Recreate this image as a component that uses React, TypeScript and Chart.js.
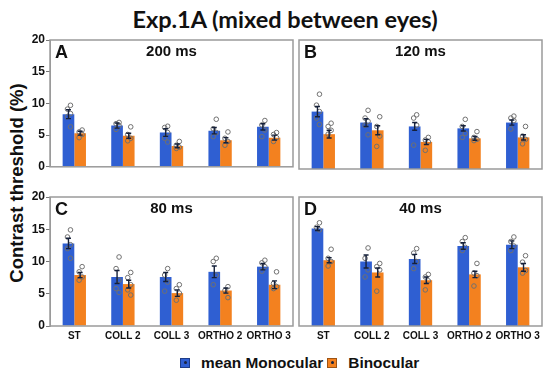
import React, { useEffect, useRef } from 'react';
import { Chart, registerables } from 'chart.js';
Chart.register(...registerables);

const categories = ['ST', 'COLL 2', 'COLL 3', 'ORTHO 2', 'ORTHO 3'];
const yTicks = [0, 5, 10, 15, 20];

// 200 ms
const mono200 = [8.3, 6.5, 5.4, 5.7, 6.3];
const bino200 = [5.3, 4.9, 3.3, 4.2, 4.6];
const monoErr200 = [0.7, 0.4, 0.6, 0.5, 0.5];
const binoErr200 = [0.3, 0.4, 0.3, 0.4, 0.4];
const monoPts200 = [[9.7, 9.1, 8.4, 7.9, 6.3], [7.0, 6.8, 6.5, 5.9], [6.4, 6.2, 5.4, 4.5, 3.9], [7.5, 6.0, 5.4, 4.75], [7.3, 6.6, 5.8, 4.75]];
const binoPts200 = [[5.8, 5.5, 5.1, 4.6], [6.3, 5.1, 4.5, 4.1], [4.0, 3.4, 3.1, 2.9], [5.5, 4.5, 4.0, 3.4], [5.4, 5.1, 4.6, 4.0]];

// 120 ms
const mono120 = [8.9, 7.2, 6.6, 6.3, 7.2];
const bino120 = [5.4, 6.0, 4.2, 4.75, 4.9];
const monoErr120 = [0.8, 0.6, 0.6, 0.4, 0.4];
const binoErr120 = [0.6, 0.7, 0.4, 0.3, 0.4];
const monoPts120 = [[11.6, 9.9, 8.9, 7.9, 6.9], [9.1, 7.9, 7.4, 6.8, 5.3], [8.4, 7.9, 6.8, 3.7], [7.7, 6.6, 5.5, 4.9], [8.2, 7.9, 7.5, 6.2]];
const binoPts120 = [[7.1, 6.6, 6.0, 5.4], [8.1, 6.6, 5.1, 3.5], [4.9, 4.5, 4.2, 2.9], [5.8, 4.9, 4.6, 4.4], [6.6, 5.1, 4.6, 3.9]];

// 80 ms
const mono80 = [12.8, 7.6, 7.6, 8.4, 9.2];
const bino80 = [7.9, 6.5, 5.1, 5.5, 6.4];
const monoErr80 = [0.8, 1.0, 0.7, 0.9, 0.5];
const binoErr80 = [0.4, 0.6, 0.5, 0.4, 0.6];
const monoPts80 = [[14.9, 13.8, 12.6, 12.0, 10.5], [10.7, 8.9, 7.1, 5.8, 5.2], [8.9, 7.9, 6.8, 5.4], [10.5, 10.0, 7.9, 6.4], [10.2, 9.8, 9.2, 8.5]];
const binoPts80 = [[9.2, 8.4, 7.6, 7.1], [8.3, 7.5, 6.4, 5.6, 4.8], [6.4, 5.8, 5.1, 4.0], [6.1, 5.5, 4.4], [8.4, 6.6, 6.1, 5.8]];

// 40 ms
const mono40 = [15.1, 10.0, 10.4, 12.4, 12.6];
const bino40 = [10.2, 8.3, 7.1, 8.0, 9.1];
const monoErr40 = [0.3, 1.0, 0.7, 0.5, 0.6];
const binoErr40 = [0.4, 0.7, 0.5, 0.5, 0.6];
const monoPts40 = [[16.0, 15.3, 14.9], [12.1, 10.5, 8.7, 7.6], [12.0, 11.3, 10.0, 8.9], [13.7, 13.1, 12.2, 11.7], [13.8, 13.1, 12.4, 11.7]];
const binoPts40 = [[11.9, 10.5, 10.0, 9.3], [9.7, 9.2, 8.7, 5.4], [8.0, 7.6, 7.0, 5.6], [9.7, 8.2, 7.8, 6.2], [10.9, 9.9, 8.6, 8.2]];

const BLUE = '#2f5fd2';
const ORANGE = '#f3811f';
const FONT = '"Liberation Sans", Arial, sans-serif';

const errDotsPlugin = {
  id: 'errDots',
  afterDatasetsDraw(chart: any, _args: any, opts: any) {
    const ctx = chart.ctx;
    const ys = chart.scales.y;
    const { err, pts } = opts;
    [0, 1].forEach((di) => {
      const meta = chart.getDatasetMeta(di);
      meta.data.forEach((bar: any, i: number) => {
        const v = chart.data.datasets[di].data[i];
        const e = err[di][i];
        const x = bar.x;
        ctx.save();
        ctx.strokeStyle = '#707070';
        ctx.lineWidth = 1;
        (pts[di][i] as number[]).forEach((p, k) => {
          const jx = (k % 2 === 0 ? 1 : -1) * 1.5 + 0.5;
          ctx.beginPath();
          ctx.arc(x + jx, ys.getPixelForValue(p), 2.3, 0, Math.PI * 2);
          ctx.stroke();
        });
        ctx.strokeStyle = '#15203a';
        ctx.lineWidth = 1.4;
        const yt = ys.getPixelForValue(v + e);
        const yb = ys.getPixelForValue(v - e);
        ctx.beginPath();
        ctx.moveTo(x, yt);
        ctx.lineTo(x, yb);
        ctx.moveTo(x - 2.5, yt);
        ctx.lineTo(x + 2.5, yt);
        ctx.moveTo(x - 2.5, yb);
        ctx.lineTo(x + 2.5, yb);
        ctx.stroke();
        ctx.restore();
      });
    });
  },
};

const framePlugin = {
  id: 'frame',
  afterDraw(chart: any, _args: any, opts: any) {
    const { left, top, right, bottom } = chart.chartArea;
    const ctx = chart.ctx;
    ctx.save();
    ctx.strokeStyle = '#9a9a9a';
    ctx.lineWidth = 1.5;
    ctx.strokeRect(left, top, right - left, bottom - top);
    ctx.fillStyle = '#111';
    ctx.textBaseline = 'middle';
    ctx.textAlign = 'left';
    ctx.font = `bold 18px ${FONT}`;
    ctx.fillText(opts.letter, left + 5, top + 13);
    ctx.textAlign = 'center';
    ctx.font = `bold 15px ${FONT}`;
    ctx.fillText(opts.label, (left + right) / 2, top + 12);
    ctx.restore();
  },
};

type PanelProps = {
  left: number; top: number; width: number; height: number;
  letter: string; label: string; showY: boolean; showX: boolean;
  mono: number[]; bino: number[]; monoErr: number[]; binoErr: number[];
  monoPts: number[][]; binoPts: number[][];
  padL: number; padR: number;
};

function Panel(p: PanelProps) {
  const ref = useRef<HTMLCanvasElement>(null);
  useEffect(() => {
    const chart = new Chart(ref.current as HTMLCanvasElement, {
      type: 'bar',
      data: {
        labels: categories,
        datasets: [
          { label: 'mean Monocular', data: p.mono, backgroundColor: BLUE, categoryPercentage: 0.48, barPercentage: 1.0 },
          { label: 'Binocular', data: p.bino, backgroundColor: ORANGE, categoryPercentage: 0.48, barPercentage: 1.0 },
        ],
      },
      options: {
        animation: false,
        responsive: false,
        layout: { padding: { left: p.padL, right: p.padR, top: 10, bottom: p.showX ? 0 : 6 } },
        plugins: {
          legend: { display: false },
          tooltip: { enabled: false },
          errDots: { err: [p.monoErr, p.binoErr], pts: [p.monoPts, p.binoPts] },
          frame: { letter: p.letter, label: p.label },
        } as any,
        scales: {
          x: {
            grid: { display: false, drawTicks: false },
            border: { display: false },
            ticks: {
              display: p.showX,
              autoSkip: false,
              maxRotation: 0,
              padding: 4,
              color: '#111',
              font: { family: FONT, weight: 'bold', size: 10 },
            },
            afterFit: (s: any) => { s.height = p.showX ? 26 : 0; },
          },
          y: {
            display: p.showY,
            min: 0,
            max: 20,
            afterBuildTicks: (s: any) => { s.ticks = yTicks.map((v) => ({ value: v })); },
            grid: { drawOnChartArea: false, drawTicks: true, tickLength: 4, color: '#777' },
            border: { display: true, color: '#9a9a9a' },
            ticks: {
              padding: 1,
              color: '#111',
              font: { family: FONT, weight: 'bold', size: 12 },
            },
            afterFit: (s: any) => { s.width = p.showY ? 50 - p.padL : 0; },
          },
        },
      },
      plugins: [errDotsPlugin, framePlugin],
    });
    return () => chart.destroy();
  }, []);
  return (
    <canvas
      ref={ref}
      width={p.width}
      height={p.height}
      style={{ position: 'absolute', left: p.left, top: p.top, width: p.width, height: p.height }}
    />
  );
}

function LegendBox({ color, gap }: { color: string; gap: number }) {
  return (
    <span style={{ display: 'inline-block', position: 'relative', width: 8, height: 8, background: color, border: '1px solid rgba(0,0,0,0.35)', marginRight: gap, verticalAlign: 'middle' }}>
      <span style={{ position: 'absolute', left: 2.5, top: 2.5, width: 3, height: 3, borderRadius: '50%', background: '#1a2340' }} />
    </span>
  );
}

export default function App() {
  return (
    <div style={{ position: 'fixed', left: 0, top: 0, width: 550, height: 376, background: '#fff', overflow: 'hidden' }}>
      <div style={{ position: 'absolute', left: 0, top: 4, width: 570, textAlign: 'center', fontFamily: 'Lato, "Open Sans", sans-serif', fontWeight: 700, fontSize: 23.5, lineHeight: '30px', color: '#111' }}>
        Exp.1A (mixed between eyes)
      </div>
      <div style={{ position: 'absolute', left: 17 - 120, top: 183 - 12, width: 240, height: 24, lineHeight: '24px', textAlign: 'center', transform: 'rotate(-90deg)', fontFamily: FONT, fontWeight: 700, fontSize: 18.5, color: '#111' }}>
        Contrast threshold (%)
      </div>
      <Panel left={0} top={30} width={300} height={145} letter="A" label="200 ms" showY={true} showX={false}
        mono={mono200} bino={bino200} monoErr={monoErr200} binoErr={binoErr200} monoPts={monoPts200} binoPts={binoPts200} padL={0} padR={7} />
      <Panel left={290} top={30} width={260} height={145} letter="B" label="120 ms" showY={false} showX={false}
        mono={mono120} bino={bino120} monoErr={monoErr120} binoErr={binoErr120} monoPts={monoPts120} binoPts={binoPts120} padL={9} padR={8} />
      <Panel left={0} top={187} width={300} height={165} letter="C" label="80 ms" showY={true} showX={true}
        mono={mono80} bino={bino80} monoErr={monoErr80} binoErr={binoErr80} monoPts={monoPts80} binoPts={binoPts80} padL={0} padR={7} />
      <Panel left={290} top={187} width={260} height={165} letter="D" label="40 ms" showY={false} showX={true}
        mono={mono40} bino={bino40} monoErr={monoErr40} binoErr={binoErr40} monoPts={monoPts40} binoPts={binoPts40} padL={9} padR={8} />
      <div style={{ position: 'absolute', left: 180, top: 352, height: 20, lineHeight: '20px', whiteSpace: 'nowrap', fontFamily: FONT, fontWeight: 700, fontSize: 15.4, color: '#111' }}>
        <LegendBox color={BLUE} gap={11} />
        <span style={{ verticalAlign: 'middle', marginRight: 4 }}>mean Monocular</span>
        <LegendBox color={ORANGE} gap={11} />
        <span style={{ verticalAlign: 'middle' }}>Binocular</span>
      </div>
    </div>
  );
}
